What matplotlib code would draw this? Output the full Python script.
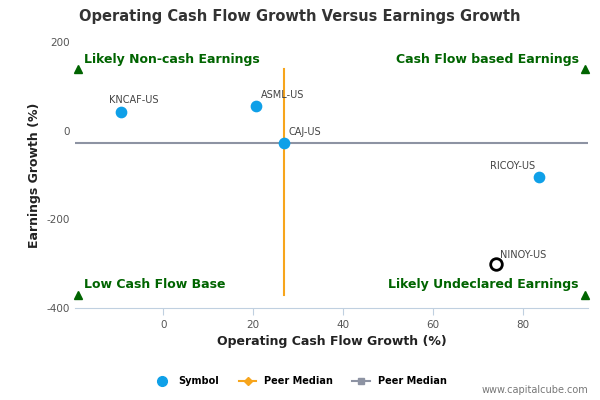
import matplotlib
matplotlib.use("Agg")
import matplotlib.pyplot as plt
from matplotlib.lines import Line2D
plt.rcParams["axes.unicode_minus"] = False

symbols = ["KNCAF-US", "ASML-US", "CAJ-US", "RICOY-US"]
cf_growth = [-9.3, 20.7, 26.9, 83.6]
earn_growth = [43, 56, -27, -104]
target_sym = "NINOY-US"
target_cf = 74
target_earn = -300
median_cf = 26.9
median_earn = -27
quad_labels = ["Likely Non-cash Earnings", "Cash Flow based Earnings", "Low Cash Flow Base", "Likely Undeclared Earnings"]

fig = plt.figure(figsize=(6, 4), dpi=100)
ax = fig.add_axes([0.125, 0.23, 0.855, 0.665])
xmin, xmax, ymin, ymax = -19.6, 94.4, -400, 200
ax.set_xlim(xmin, xmax); ax.set_ylim(ymin, ymax)

ax.plot([xmin, xmax], [median_earn]*2, color="#8d93a3", lw=1.5, zorder=2)
ax.plot([median_cf]*2, [-370, 138], color="#f7a51c", lw=1.5, zorder=2)
ax.scatter(cf_growth, earn_growth, s=55, color="#0fa0e8", zorder=3)
ax.scatter([target_cf], [target_earn], s=70, facecolor="white", edgecolor="black", lw=2, zorder=3)
offs = {"KNCAF-US": (-9, 5, "left"), "ASML-US": (3, 4, "left"), "CAJ-US": (3, 4, "left"), "RICOY-US": (-3, 4, "right")}
for s, x, y in zip(symbols, cf_growth, earn_growth):
    dx, dy, ha = offs[s]
    ax.annotate(s, (x, y), xytext=(dx, dy), textcoords="offset points", ha=ha, va="bottom", fontsize=7, color="#444")
ax.annotate(target_sym, (target_cf, target_earn), xytext=(3, 4), textcoords="offset points", fontsize=7, color="#444")

g = "#006400"
for (x, y) in [(xmin+0.7, 138), (xmax-0.7, 138), (xmin+0.7, -370), (xmax-0.7, -370)]:
    ax.plot(x, y, marker="^", color=g, ms=6, zorder=4, clip_on=False)
ax.text(xmin+2, 152, quad_labels[0], color=g, fontsize=9, fontweight="bold")
ax.text(xmax-2, 152, quad_labels[1], color=g, fontsize=9, fontweight="bold", ha="right")
ax.text(xmin+2, -355, quad_labels[2], color=g, fontsize=9, fontweight="bold")
ax.text(xmax-2, -355, quad_labels[3], color=g, fontsize=9, fontweight="bold", ha="right")

ax.set_xticks([0, 20, 40, 60, 80]); ax.set_yticks([-400, -200, 0, 200])
ax.tick_params(labelsize=7.5, colors="#555", length=0)
ax.tick_params(axis="x", length=5, color="#c0d0e0")
for sp in ["top", "right", "left"]:
    ax.spines[sp].set_visible(False)
ax.spines["bottom"].set_color("#c0d0e0")
ax.set_xlabel("Operating Cash Flow Growth (%)", fontsize=9, fontweight="bold", color="#222")
ax.set_ylabel("Earnings Growth (%)", fontsize=9, fontweight="bold", color="#222")
fig.text(0.5, 0.96, "Operating Cash Flow Growth Versus Earnings Growth", ha="center", va="center", fontsize=10.5, fontweight="bold", color="#333")

handles = [Line2D([], [], marker="o", ls="", color="#0fa0e8", ms=7),
           Line2D([], [], marker="D", color="#f7a51c", ms=4, lw=1.5),
           Line2D([], [], marker="s", color="#8d93a3", ms=5, lw=1.5)]
fig.legend(handles, ["Symbol", "Peer Median", "Peer Median"], loc="center", bbox_to_anchor=(0.5, 0.047),
           ncol=3, frameon=False, prop={"size": 7, "weight": "bold"}, handlelength=1.8, columnspacing=2)
fig.text(0.98, 0.018, "www.capitalcube.com", ha="right", fontsize=7, color="#777")
fig.savefig("out.png", dpi=100, facecolor="white")
